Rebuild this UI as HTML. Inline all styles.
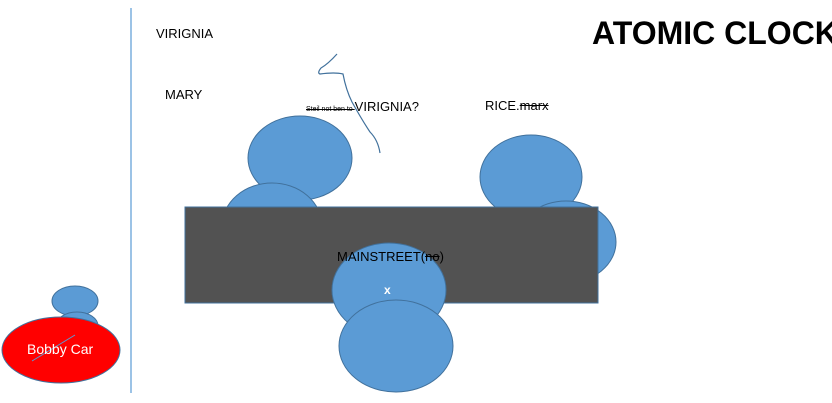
<!DOCTYPE html>
<html><head><style>
body{margin:0;width:832px;height:403px;background:#fff;overflow:hidden;position:relative;font-family:"Liberation Sans",sans-serif}
.t{position:absolute;white-space:nowrap;color:#000}
</style></head><body>
<svg width="832" height="403" style="position:absolute;left:0;top:0">
<g fill="#5b9bd5" stroke="#41719c" stroke-width="1">
<line x1="131" y1="8" x2="131" y2="393" stroke="#5b9bd5" stroke-width="1.2"/>
<ellipse cx="300" cy="158" rx="52" ry="42"/>
<ellipse cx="531" cy="177" rx="51" ry="42"/>
<ellipse cx="272" cy="226" rx="50" ry="43"/>
<ellipse cx="566" cy="242" rx="50" ry="41"/>
<rect x="185" y="207" width="413" height="96" fill="#525252" stroke="#41719c"/>
<ellipse cx="389" cy="290" rx="57" ry="47"/>
<ellipse cx="396" cy="346" rx="57" ry="46"/>
<ellipse cx="75" cy="301" rx="23" ry="15"/>
<ellipse cx="77" cy="326" rx="21" ry="14"/>
<ellipse cx="61" cy="350" rx="59" ry="33" fill="#ff0000"/>
<line x1="32" y1="361" x2="75" y2="335" stroke="#5b9bd5"/>
<path d="M337,54 Q328,64 321,68 Q317,73 320,74 Q335,72 343,74 Q346,90 352,102 Q362,120 370,132 Q378,140 380,153" fill="none" stroke="#41719c" stroke-width="1.2"/>
</g>
</svg>
<div class="t" style="left:156px;top:26px;font-size:13px">VIRIGNIA</div>
<div class="t" style="left:165px;top:87px;font-size:13px">MARY</div>
<div class="t" style="left:306px;top:99px;font-size:13px"><span style="font-size:7px;text-decoration:line-through">Steil not ben to </span>VIRIGNIA?</div>
<div class="t" style="left:485px;top:98px;font-size:13px">RICE.<s>marx</s></div>
<div class="t" style="left:592px;top:15px;font-size:32px;font-weight:bold">ATOMIC CLOCK</div>
<div class="t" style="left:337px;top:249px;font-size:13px">MAINSTREET(<s>no</s>)</div>
<div class="t" style="left:384px;top:283px;font-size:12px;color:#fff;font-weight:bold">x</div>
<div class="t" style="left:27px;top:341px;font-size:14px;color:#fff">Bobby Car</div>
</body></html>
